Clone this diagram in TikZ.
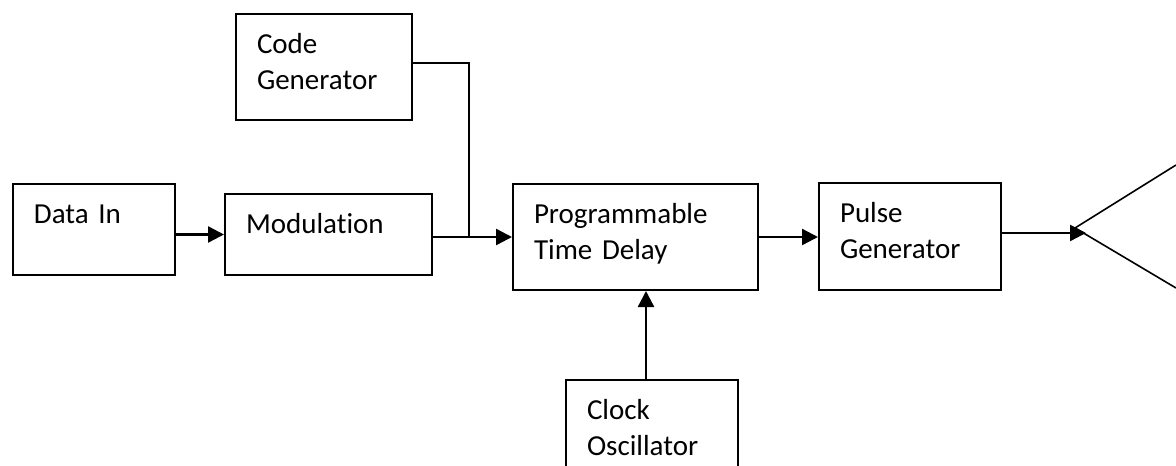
\documentclass[tikz,border=0pt]{standalone}
\usepackage{fontspec}
\setmainfont{Carlito}[Ligatures=NoCommon]
\usetikzlibrary{arrows.meta}

\tikzset{
  blk/.style={draw, line width=2pt, anchor=north west, align=left,
    inner xsep=21pt, inner ysep=0pt, text height=39pt,
    font=\fontsize{29}{36.5}\selectfont},
  arr/.style={line width=2.4pt, -{Triangle[length=16pt,width=16pt]}},
  wire/.style={line width=1.6pt}
}

\begin{document}
\begin{tikzpicture}[x=1pt,y=-1pt]
        \useasboundingbox (0,0) rectangle (1176,466);
        \clip (0,0) rectangle (1176,466);

        % blocks: top left corner, text top aligned
        \node[blk, text width=120pt, text depth=52pt] (din) at (12,183) {Data In};
        \node[blk, text width=165pt, text depth=42pt] (mod) at (224,193) {Modulation};
        \node[blk, text width=134pt, text depth=67pt] (code) at (235,13) {Code\\Generator};
        \node[blk, text width=203pt, text depth=67pt] (ptd) at (512,183) {Programmable\\Time Delay};
        \node[blk, text width=140pt, text depth=68pt] (pulse) at (818,182) {Pulse\\Generator};
        \node[blk, text width=130pt, text depth=100pt] (clk) at (565,379) {Clock\\Oscillator};

        % antenna
        \coordinate (apex) at (1075,228);
        \coordinate (feed) at (1086,233);
        \draw[wire] (1176,165) -- (apex) -- (1176,288);

        \draw[arr] (din.east |- mod.west) -- (mod.west);
        \draw[arr] (ptd.west -| mod.east) -- (ptd.west);
        \coordinate (join) at ([xshift=36pt]mod.east |- ptd.west);
        \draw[wire] ([yshift=4pt]code.east) -| (join);
        \draw[arr] (ptd.east) -- (ptd.east -| pulse.west);
        \draw[arr] ([xshift=-6pt]clk.north) -- ([xshift=-6pt]clk.north |- ptd.south);
        \draw[arr] (pulse.east |- feed) -- (feed);

\end{tikzpicture}
\end{document}
